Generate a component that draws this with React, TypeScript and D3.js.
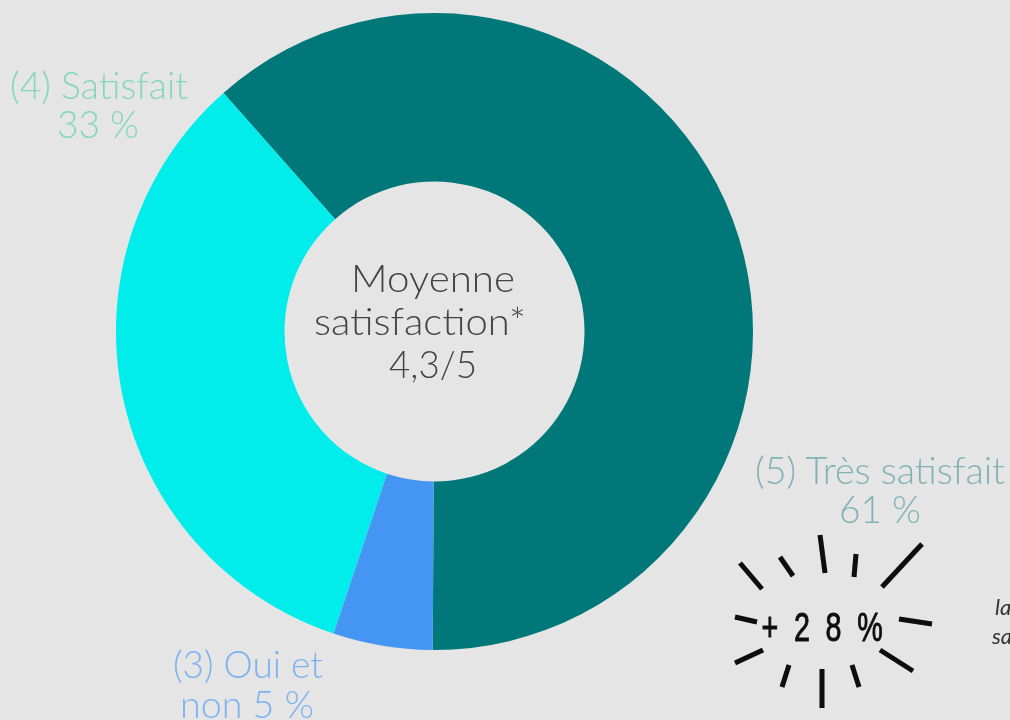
import React from "react";
import * as d3 from "d3";

const categories = ["(5) Très satisfait", "(3) Oui et non", "(4) Satisfait"];
const values = [61, 5, 33];
const colours = ["#037778", "#4496f2", "#00edec"];
const centreLines = ["Moyenne", "satisfaction*", "4,3/5"];

const cx = 434.5, cy = 331.5, outer = 318.5, inner = 150;
const startDeg = -41.5;
const burstX = 823, burstY = 627;
// sunburst decoration: offsets from the burst's centre
const burst = [
  [-83, -64, -61, -38], [-43, -70, -30, -51], [-3, -92, 2, -54], [33, -73, 31, -50],
  [99, -83, 59, -40], [76, -8, 109, -3], [57, 23, 90, 44], [29, 38, 36, 60],
  [-1, 42, -1, 81], [-34, 38, -41, 60], [-60, 23, -88, 36], [-66, -5, -88, -10],
];

const thin = { fontFamily: "Lato, 'Open Sans', sans-serif", fontWeight: 300 } as const;

export default function App() {
  const pie = d3.pie<number>().sort(null)
    .startAngle((startDeg * Math.PI) / 180)
    .endAngle((startDeg * Math.PI) / 180 + 2 * Math.PI);
  const arc = d3.arc<d3.PieArcDatum<number>>().innerRadius(inner).outerRadius(outer);
  const arcs = pie(values);
  const rayLine = d3.line();
  return (
    <svg width={1010} height={720} viewBox="0 0 1010 720"
      style={{ position: "absolute", left: 0, top: 0, background: "#e5e5e5" }}>
      <defs>
        <filter id="soft" x="-5%" y="-5%" width="110%" height="110%">
          <feGaussianBlur stdDeviation="0.6" />
        </filter>
      </defs>
      <rect width={1010} height={720} fill="#e5e5e5" />
      <g filter="url(#soft)">
        <g transform={`translate(${cx},${cy})`}>
          {arcs.map((a, i) => <path key={categories[i]} d={arc(a) ?? ""} fill={colours[i]} />)}
        </g>
        <g {...thin} fontSize={37} textAnchor="middle" fill="#444">
          <text x={433} y={292} textLength={164} lengthAdjust="spacingAndGlyphs">{centreLines[0]}</text>
          <text x={420} y={335} textLength={212} lengthAdjust="spacingAndGlyphs">{centreLines[1]}</text>
          <text x={433} y={378} textLength={88} lengthAdjust="spacingAndGlyphs">{centreLines[2]}</text>
        </g>
        <g {...thin} fontSize={37} textAnchor="middle">
          <g fill="#84d6bc">
            <text x={99} y={99} textLength={178} lengthAdjust="spacingAndGlyphs">{categories[2]}</text>
            <text x={98} y={138} textLength={82} lengthAdjust="spacingAndGlyphs">{`${values[2]} %`}</text>
          </g>
          <g fill="#7db2f0">
            <text x={248} y={678} textLength={150} lengthAdjust="spacingAndGlyphs">(3) Oui et</text>
            <text x={247} y={718} textLength={134} lengthAdjust="spacingAndGlyphs">{`non ${values[1]} %`}</text>
          </g>
          <g fill="#80b2b6">
            <text x={880} y={484} textLength={250} lengthAdjust="spacingAndGlyphs">{categories[0]}</text>
            <text x={880} y={523} textLength={82} lengthAdjust="spacingAndGlyphs">{`${values[0]} %`}</text>
          </g>
        </g>
        <g transform={`translate(${burstX},${burstY})`} stroke="#0a0a0a" strokeWidth={5} fill="none">
          {burst.map((r, i) => (
            <path key={i} d={rayLine([[r[0], r[1]], [r[2], r[3]]]) ?? ""} />
          ))}
        </g>
        <g transform="translate(824,641) scale(0.7,1)">
          <text x={0} y={0} textAnchor="middle" fontSize={41} fill="#111" fontWeight={400}
            stroke="#111" strokeWidth={1}
            fontFamily="'Liberation Sans', sans-serif" letterSpacing={5.5}>+ 2 8 %</text>
        </g>
        <g fontFamily="Lato, sans-serif" fontStyle="italic" fontSize={22} fill="#333">
          <text x={995} y={615}>la</text>
          <text x={992} y={644}>sa</text>
        </g>
      </g>
    </svg>
  );
}
